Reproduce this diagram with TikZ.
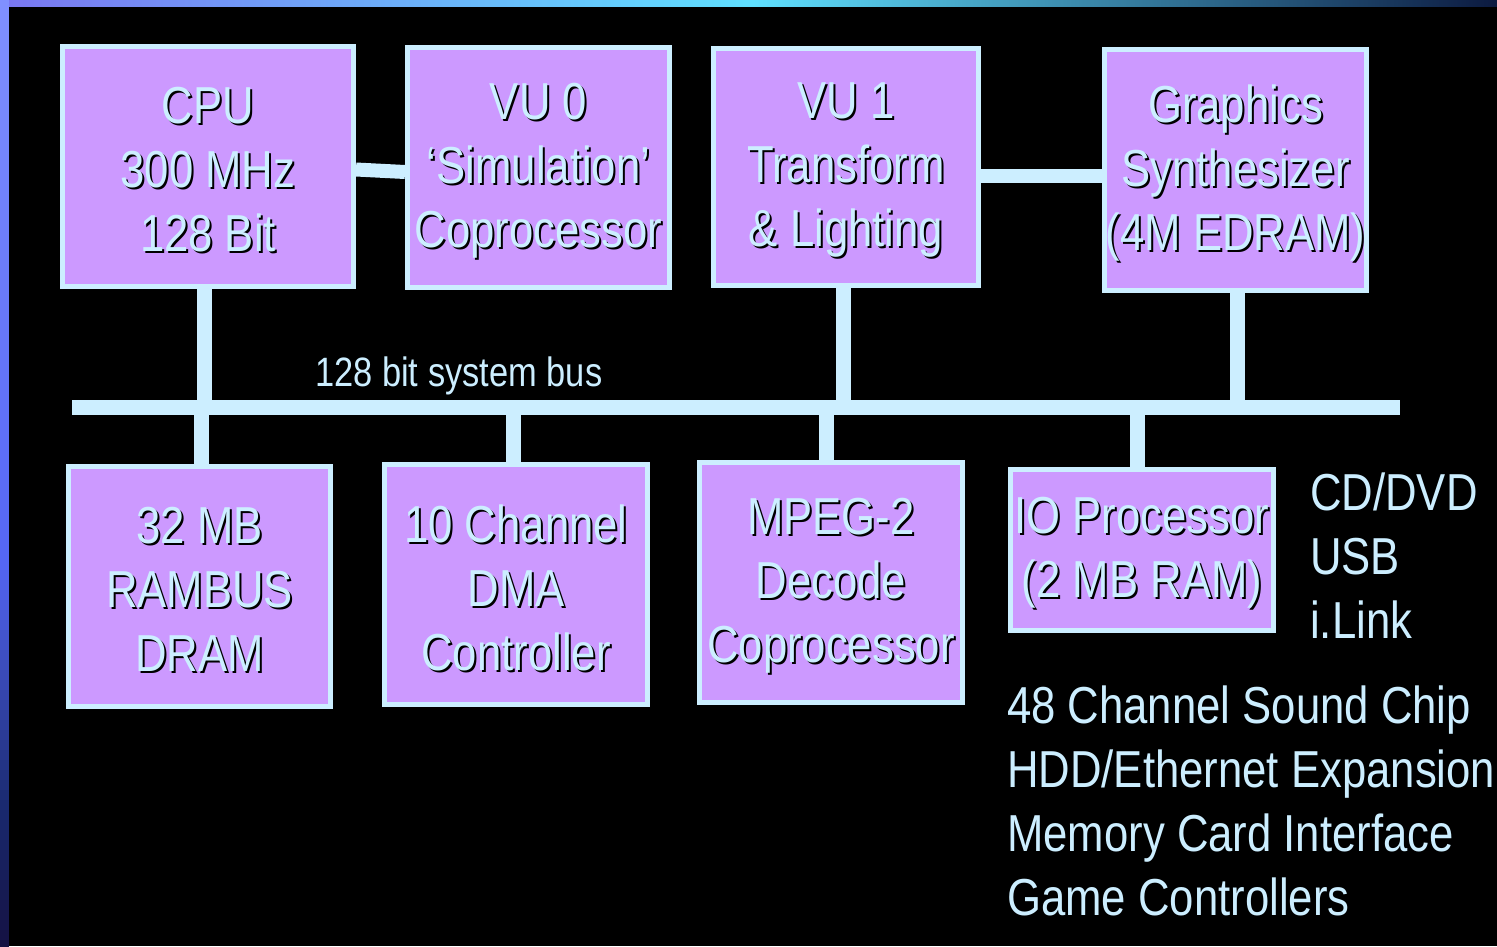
\documentclass[tikz,border=0pt]{standalone}
\usepackage{fontspec}
\setmainfont[FakeStretch=0.84]{Liberation Sans}
\usetikzlibrary{fit,calc}
\definecolor{boxfill}{HTML}{CC99FF}
\definecolor{lite}{HTML}{CCEEFF}
\definecolor{edgeA}{HTML}{7A78F2}
\definecolor{edgeB}{HTML}{5FE0FF}
\definecolor{edgeC}{HTML}{0C1A40}
\definecolor{sideA}{HTML}{8090FF}
\definecolor{sideB}{HTML}{5566F5}
\definecolor{sideC}{HTML}{1A2A70}
\definecolor{sideD}{HTML}{141040}
\tikzset{
  boxst/.style={draw=lite, fill=boxfill, line width=5pt, inner sep=-2.5pt},
  conn/.style={draw=lite, line width=15pt},
  txt/.style={align=center, inner sep=0pt, font=\fontsize{52}{64}\selectfont},
  side/.style={anchor=base west, inner sep=0pt, text=lite, font=\fontsize{52}{64}\selectfont},
}
\newcommand\mkbox[6]{%
  \node[boxst, fit={(#2,#3)(#4,#5)}] (#1) {};
  \node[txt, text=black] (#1s) at ($(#1.center)+(2,5)$) {#6};
  \node[txt, text=lite] (#1t) at ($(#1.center)+(0,3)$) {#6};
}
\begin{document}
\begin{tikzpicture}[x=1pt, y=-1pt]
\useasboundingbox (0,0) rectangle (1497,946);
\fill[black] (0,0) rectangle (1497,946);
% left edge band
\foreach \i in {0,...,55} {
  \pgfmathtruncatemacro\p{100-\i*100/56}
  \fill[sideA!\p!sideB] (0,\i*10) rectangle (9,\i*10+10.5);
}
\foreach \i in {0,...,23} {
  \pgfmathtruncatemacro\p{100-\i*100/24}
  \fill[sideB!\p!sideC] (0,560+\i*10) rectangle (9,560+\i*10+10.5);
}
\foreach \i in {0,...,14} {
  \pgfmathtruncatemacro\p{100-\i*100/15}
  \fill[sideC!\p!sideD] (0,800+\i*10) rectangle (9,800+\i*10+10.5);
}
\shade[left color=edgeA, right color=edgeC, middle color=edgeB] (9,0) rectangle (1497,6);
% bus
\coordinate (busL) at (72,407);
\coordinate (busR) at (1400,407);
% boxes
\mkbox{cpu}{60}{44}{356}{289}{CPU\\300 MHz\\128 Bit}
\mkbox{vuz}{405}{45}{672}{290}{VU 0\\‘Simulation’\\Coprocessor}
\mkbox{vuo}{711}{46}{981}{288}{VU 1\\Transform\\\& Lighting}
\mkbox{gs}{1102}{47}{1369}{293}{Graphics\\Synthesizer\\(4M EDRAM)}
\mkbox{ram}{66}{464}{333}{709}{32 MB\\RAMBUS\\DRAM}
\mkbox{dma}{382}{462}{650}{707}{10 Channel\\DMA\\Controller}
\mkbox{mpeg}{697}{460}{965}{705}{MPEG-2\\Decode\\Coprocessor}
\mkbox{iop}{1008}{467}{1276}{633}{IO Processor\\(2 MB RAM)}
% connector end points
\coordinate (pcpu) at ($(cpu.south)+(-4,0)$);
\coordinate (pram) at ($(ram.north)+(2,0)$);
\coordinate (pdma) at ($(dma.north)+(-3,0)$);
\coordinate (pmpeg) at ($(mpeg.north)+(-5,0)$);
\coordinate (pvuo) at ($(vuo.south)+(-3,0)$);
\coordinate (pgs) at ($(gs.south)+(1.5,0)$);
\coordinate (piop) at ($(iop.north)+(-5,0)$);
% connectors
\draw[conn] (busL) -- (busR);
\draw[conn] (pcpu) -- (pcpu |- busL);
\draw[conn] (pram) -- (pram |- busL);
\draw[conn] (pdma) -- (pdma |- busL);
\draw[conn] (pmpeg) -- (pmpeg |- busL);
\draw[conn] (pvuo) -- (pvuo |- busL);
\draw[conn] (pgs) -- (pgs |- busL);
\draw[conn] (piop) -- (piop |- busL);
\coordinate (ca) at ($(cpu.east)+(0,3)$);
\coordinate (cb) at ($(vuz.west)+(0,4.5)$);
\coordinate (cc) at ($(vuo.east)+(0,9)$);
\coordinate (cd2) at ($(gs.west)+(0,6)$);
\draw[draw=lite, line width=14pt] (ca) -- (cb);
\draw[draw=lite, line width=14pt] (cc) -- (cd2);
% labels
\node[anchor=base west, inner sep=0pt, text=lite, font=\fontsize{41}{48}\selectfont] (buslbl) at (315,386) {128 bit system bus};
\node[side] (cd) at (1310,510) {CD/DVD};
\node[side] (usb) at (1310,574) {USB};
\node[side] (ilink) at (1310,638) {i.Link};
\node[side] (snd) at (1007,723) {48 Channel Sound Chip};
\node[side] (hdd) at (1007,787) {HDD/Ethernet Expansion};
\node[side] (mem) at (1007,851) {Memory Card Interface};
\node[side] (game) at (1007,915) {Game Controllers};
\end{tikzpicture}
\end{document}
